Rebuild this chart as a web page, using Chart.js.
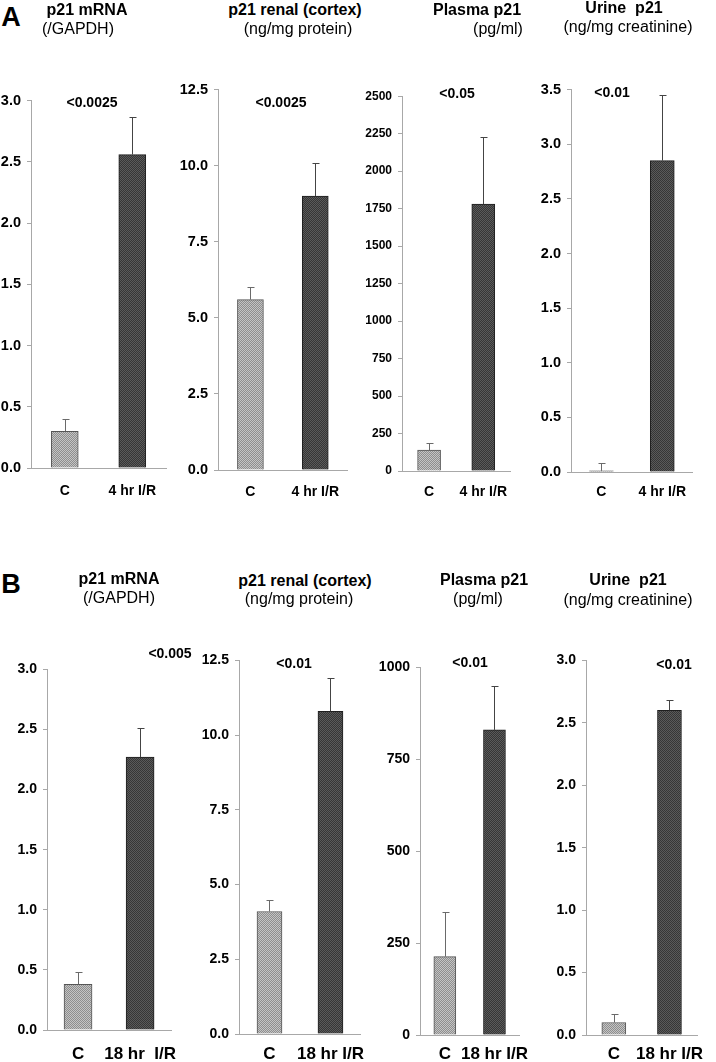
<!DOCTYPE html>
<html>
<head>
<meta charset="utf-8">
<script src="https://cdn.jsdelivr.net/npm/chart.js@4.4.1/dist/chart.umd.min.js"></script>
<style>
	body { margin: 0; background: #fff; width: 716px; height: 1062px; position: relative; overflow: hidden; font-family: "Liberation Sans", Arial, sans-serif; }
	canvas { position: absolute; }
	.t { position: absolute; white-space: pre; transform: translate(-50%, -50%); color: #000; line-height: 1; }
	.b { font-weight: bold; }
</style>
</head>
<body>
<script>
// ---- data ----
const groupsA = ["C", "4 hr I/R"];
const groupsB5 = ["C", "18 hr  I/R"];
const groupsB = ["C", "18 hr I/R"];

// panel A (4 hr I/R)
const mrnaA = [0.30, 2.56];
const mrnaAErr = [0.40, 2.87];
const cortexA = [5.6, 9.0];
const cortexAErr = [6.0, 10.1];
const plasmaA = [140, 1780];
const plasmaAErr = [190, 2230];
const urineA = [0.01, 2.85];
const urineAErr = [0.08, 3.45];

// panel B (18 hr I/R)
const mrnaB = [0.38, 2.27];
const mrnaBErr = [0.48, 2.51];
const cortexB = [4.1, 10.8];
const cortexBErr = [4.5, 11.9];
const plasmaB = [213, 830];
const plasmaBErr = [335, 949];
const urineB = [0.10, 2.60];
const urineBErr = [0.17, 2.68];

// y axis ranges: max, step, decimals shown on tick labels
const axisMax = [3.0, 12.5, 2500, 3.5, 3.0, 12.5, 1000, 3.0];
const axisStep = [0.5, 2.5, 250, 0.5, 0.5, 2.5, 250, 0.5];
const axisDecimals = [1, 1, 0, 1, 1, 1, 0, 1];

const pValues = ["<0.0025", "<0.0025", "<0.05", "<0.01", "<0.005", "<0.01", "<0.01", "<0.01"];

// ---- fills ----
function checker(a, b) {
	const c = document.createElement("canvas");
	c.width = 2; c.height = 2;
	const g = c.getContext("2d");
	g.fillStyle = a; g.fillRect(0, 0, 2, 2);
	g.fillStyle = b; g.fillRect(0, 0, 1, 1); g.fillRect(1, 1, 1, 1);
	return g.createPattern(c, "repeat");
}
const lightFill = checker("#c4c4c4", "#8e8e8e");
const darkFill = checker("#5a5a5a", "#363636");

// one-sided (upper) error bars
const errorBars = {
	id: "errorBars",
	afterDatasetsDraw(chart, args, opts) {
		const ctx = chart.ctx;
		const y = chart.scales.y;
		const meta = chart.getDatasetMeta(0);
		ctx.save();
		ctx.lineWidth = 1;
		meta.data.forEach((bar, i) => {
			const x = Math.round(bar.x) + 0.5;
			const top = Math.round(y.getPixelForValue(opts.upper[i])) + 0.5;
			ctx.strokeStyle = i === 0 ? "#6a6a6a" : "#444";
			ctx.beginPath();
			ctx.moveTo(x, bar.y);
			ctx.lineTo(x, top);
			ctx.moveTo(x - 3, top);
			ctx.lineTo(x + 4, top);
			ctx.stroke();
		});
		ctx.restore();
	},
};

// ---- layout: chart area box per chart ----
const charts = [
	{ labels: groupsA, values: mrnaA, err: mrnaAErr, left: 31, right: 171, top: 98, bottom: 468, bar: 27, tick: 14.5, xFont: 14, xPad: 15, p: [92, 102] },
	{ labels: groupsA, values: cortexA, err: cortexAErr, left: 218, right: 353, top: 87, bottom: 470, bar: 26, tick: 14.5, xFont: 14, xPad: 14, p: [281, 102] },
	{ labels: groupsA, values: plasmaA, err: plasmaAErr, left: 402, right: 520, top: 95, bottom: 471, bar: 23, tick: 12, xFont: 14, xPad: 13, p: [457, 93] },
	{ labels: groupsA, values: urineA, err: urineAErr, left: 571, right: 698, top: 87, bottom: 472, bar: 24, tick: 14.5, xFont: 14, xPad: 12, p: [612, 92] },
	{ labels: groupsB5, values: mrnaB, err: mrnaBErr, left: 47, right: 190, top: 667, bottom: 1030, bar: 28, tick: 14, xFont: 17, xPad: 14, p: [170, 653] },
	{ labels: groupsB, values: cortexB, err: cortexBErr, left: 239, right: 374, top: 658, bottom: 1034, bar: 25, tick: 14, xFont: 17, xPad: 10, p: [294, 663] },
	{ labels: groupsB, values: plasmaB, err: plasmaBErr, left: 420, right: 537, top: 665, bottom: 1035, bar: 22, tick: 14, xFont: 17, xPad: 9, p: [470, 662] },
	{ labels: groupsB, values: urineB, err: urineBErr, left: 586, right: 712, top: 658, bottom: 1035, bar: 24, tick: 14, xFont: 17, xPad: 9, p: [674, 664] },
];

const Y_W = 46, PAD_T = 12, X_H = 40;

charts.forEach((c, k) => {
	const canvas = document.createElement("canvas");
	const cl = c.left - Y_W;
	const w = c.right - cl;
	const h = c.bottom - c.top + PAD_T + X_H;
	canvas.width = w; canvas.height = h;
	canvas.style.left = cl + "px";
	canvas.style.top = (c.top - PAD_T) + "px";
	canvas.style.width = w + "px";
	canvas.style.height = h + "px";
	document.body.appendChild(canvas);

	new Chart(canvas, {
		type: "bar",
		data: {
			labels: c.labels,
			datasets: [{
				data: c.values,
				backgroundColor: [lightFill, darkFill],
				borderColor: ["#555", "#1e1e1e"],
				borderWidth: 1,
				barThickness: c.bar,
			}],
		},
		options: {
			responsive: false,
			animation: false,
			devicePixelRatio: 1,
			layout: { padding: { top: PAD_T, left: 0, right: 0, bottom: 0 } },
			plugins: {
				legend: { display: false },
				tooltip: { enabled: false },
				errorBars: { upper: c.err },
			},
			scales: {
				x: {
					grid: { display: false, drawTicks: false },
					border: { display: true, color: "#a8a8a8", width: 1 },
					ticks: {
						color: "#000",
						padding: c.xPad,
						maxRotation: 0,
						autoSkip: false,
						font: { family: "'Liberation Sans', Arial, sans-serif", size: c.xFont, weight: "bold" },
					},
					afterFit: (s) => { s.height = X_H; },
				},
				y: {
					min: 0,
					max: axisMax[k],
					grid: { display: true, drawOnChartArea: false, drawTicks: true, tickLength: 4, color: "#a8a8a8" },
					border: { display: true, color: "#a8a8a8", width: 1 },
					ticks: {
						stepSize: axisStep[k],
						color: "#000",
						padding: 6,
						font: { family: "'Liberation Sans', Arial, sans-serif", size: c.tick, weight: "bold" },
						callback: (v) => Number(v).toFixed(axisDecimals[k]),
					},
					afterFit: (s) => { s.width = Y_W; },
				},
			},
		},
		plugins: [errorBars],
	});

	const pv = document.createElement("div");
	pv.className = "t b";
	pv.style.fontSize = "14px";
	pv.style.left = c.p[0] + "px";
	pv.style.top = c.p[1] + "px";
	pv.textContent = pValues[k];
	document.body.appendChild(pv);
});

// ---- headings ----
const texts = [
	["A", 11, 17, 27, true],
	["p21 mRNA", 87, 10, 16, true],
	["(/GAPDH)", 78, 29, 16, false],
	["p21 renal (cortex)", 295, 10, 16, true],
	["(ng/mg protein)", 298, 29, 16, false],
	["Plasma p21", 477, 10, 16, true],
	["(pg/ml)", 498, 29, 16, false],
	["Urine  p21", 624, 8, 16, true],
	["(ng/mg creatinine)", 628, 27, 16, false],
	["B", 11, 584, 27, true],
	["p21 mRNA", 119, 579, 16, true],
	["(/GAPDH)", 119, 598, 16, false],
	["p21 renal (cortex)", 305, 581, 16, true],
	["(ng/mg protein)", 299, 599, 16, false],
	["Plasma p21", 484, 580, 16, true],
	["(pg/ml)", 478, 599, 16, false],
	["Urine  p21", 628, 580, 16, true],
	["(ng/mg creatinine)", 628, 600, 16, false],
];
texts.forEach(([s, x, y, size, bold]) => {
	const d = document.createElement("div");
	d.className = bold ? "t b" : "t";
	d.style.left = x + "px";
	d.style.top = y + "px";
	d.style.fontSize = size + "px";
	d.textContent = s;
	document.body.appendChild(d);
});
</script>
</body>
</html>
